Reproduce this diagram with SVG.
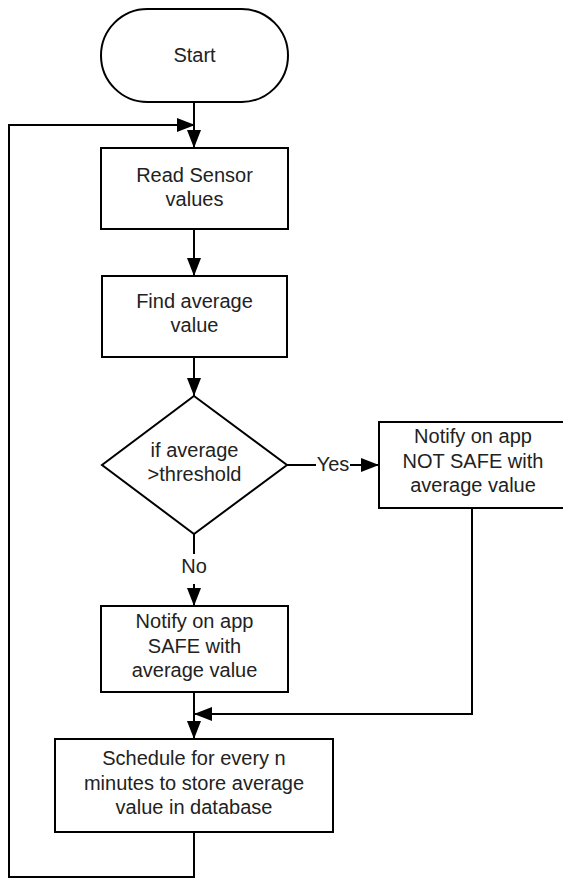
<svg xmlns="http://www.w3.org/2000/svg" width="563" height="879" viewBox="0 0 563 879">
  <style>
    .shape { fill: #ffffff; stroke: #000000; stroke-width: 2; }
    .line { fill: none; stroke: #000000; stroke-width: 2; }
    .label { font-family: "Liberation Sans", Arial, sans-serif; font-size: 20px; fill: #222222; text-anchor: middle; }
  </style>
  <defs>
    <marker id="arrow" viewBox="0 0 18 14" refX="18" refY="7" markerWidth="18" markerHeight="14" markerUnits="userSpaceOnUse" orient="auto">
      <path d="M0,0 L18,7 L0,14 Z" fill="#000000"/>
    </marker>
  </defs>

  <rect width="563" height="879" fill="#ffffff"/>

  <!-- connectors -->
  <g id="connectors">
    <path class="line" d="M194,102 V148" marker-end="url(#arrow)"/>
    <path class="line" d="M194,832 V877 H9 V125 H195" marker-end="url(#arrow)"/>
    <path class="line" d="M194,229 V276" marker-end="url(#arrow)"/>
    <path class="line" d="M194,357 V396" marker-end="url(#arrow)"/>
    <path class="line" d="M287,465 H316"/>
    <path class="line" d="M350,465 H379" marker-end="url(#arrow)"/>
    <text class="label" x="333" y="471">Yes</text>
    <path class="line" d="M194,534 V554"/>
    <text class="label" x="194" y="573">No</text>
    <path class="line" d="M194,584 V606" marker-end="url(#arrow)"/>
    <path class="line" d="M472,508 V714 H194" marker-end="url(#arrow)"/>
    <path class="line" d="M194,692 V739" marker-end="url(#arrow)"/>
  </g>

  <g id="start">
    <rect class="shape" x="101" y="9" width="187" height="93" rx="46.5" ry="46.5"/>
    <text class="label" x="194.5" y="62">Start</text>
  </g>

  <g id="read-sensor">
    <rect class="shape" x="101" y="148" width="187" height="81"/>
    <text class="label" x="194.5" y="182">Read Sensor</text>
    <text class="label" x="194.5" y="206">values</text>
  </g>

  <g id="find-average">
    <rect class="shape" x="102" y="276" width="185" height="81"/>
    <text class="label" x="194.5" y="308">Find average</text>
    <text class="label" x="194.5" y="332">value</text>
  </g>

  <g id="decision">
    <path class="shape" d="M194,396 L287,465 L194,534 L102,465 Z"/>
    <text class="label" x="194.5" y="457">if average</text>
    <text class="label" x="194.5" y="481">&gt;threshold</text>
  </g>

  <g id="notify-not-safe">
    <rect class="shape" x="379" y="422" width="187" height="86"/>
    <text class="label" x="473" y="443">Notify on app</text>
    <text class="label" x="473" y="468">NOT SAFE with</text>
    <text class="label" x="473" y="492">average value</text>
  </g>

  <g id="notify-safe">
    <rect class="shape" x="101" y="606" width="187" height="86"/>
    <text class="label" x="194.5" y="628">Notify on app</text>
    <text class="label" x="194.5" y="653">SAFE with</text>
    <text class="label" x="194.5" y="677">average value</text>
  </g>

  <g id="schedule">
    <rect class="shape" x="55" y="739" width="278" height="93"/>
    <text class="label" x="194" y="765">Schedule for every n</text>
    <text class="label" x="194" y="790">minutes to store average</text>
    <text class="label" x="194" y="814">value in database</text>
  </g>
</svg>
